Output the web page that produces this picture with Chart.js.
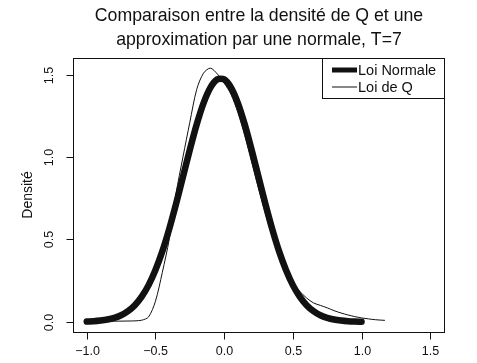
<!DOCTYPE html>
<html>
<head>
<meta charset="utf-8">
<script src="https://cdn.jsdelivr.net/npm/chart.js"></script>
<style>
  body { margin: 0; background: #fff; }
</style>
</head>
<body>
<canvas id="myChart" width="477" height="363"></canvas>
<script>
// densité de la loi normale
const xNormale = [-1.00, -0.95, -0.90, -0.85, -0.80, -0.75, -0.70, -0.65, -0.60, -0.55,
  -0.50, -0.45, -0.40, -0.35, -0.30, -0.25, -0.20, -0.15, -0.10, -0.05,
  0.00, 0.05, 0.10, 0.15, 0.20, 0.25, 0.30, 0.35, 0.40, 0.45,
  0.50, 0.55, 0.60, 0.65, 0.70, 0.75, 0.80, 0.85, 0.90, 0.95, 1.00];
const yNormale = [0.002, 0.004, 0.008, 0.014, 0.024, 0.040, 0.065, 0.101, 0.153, 0.223,
  0.315, 0.428, 0.563, 0.716, 0.880, 1.044, 1.198, 1.328, 1.422, 1.472,
  1.472, 1.422, 1.328, 1.198, 1.044, 0.880, 0.716, 0.563, 0.428, 0.315,
  0.223, 0.153, 0.101, 0.065, 0.040, 0.024, 0.014, 0.008, 0.004, 0.002, 0.001];

// densité de Q
const xQ = [-1.00, -0.90, -0.80, -0.70, -0.65, -0.60, -0.55, -0.50, -0.45, -0.40,
  -0.35, -0.30, -0.25, -0.20, -0.15, -0.10, -0.05, 0.00, 0.05, 0.10,
  0.15, 0.20, 0.25, 0.30, 0.35, 0.40, 0.45, 0.50, 0.55, 0.60,
  0.65, 0.70, 0.75, 0.80, 0.85, 0.90, 0.95, 1.00, 1.05, 1.10, 1.17];
const yQ = [0.003, 0.003, 0.004, 0.005, 0.006, 0.010, 0.030, 0.125, 0.300, 0.500,
  0.780, 1.000, 1.210, 1.410, 1.510, 1.540, 1.505, 1.450, 1.380, 1.270,
  1.130, 0.970, 0.810, 0.660, 0.520, 0.400, 0.300, 0.235, 0.185, 0.145,
  0.115, 0.100, 0.085, 0.068, 0.054, 0.042, 0.032, 0.024, 0.018, 0.013, 0.009];

const xTicks = [-1.0, -0.5, 0.0, 0.5, 1.0, 1.5];
const xTickLabels = ["\u22121.0", "\u22120.5", "0.0", "0.5", "1.0", "1.5"];
const yTicks = [0.0, 0.5, 1.0, 1.5];
const yTickLabels = ["0.0", "0.5", "1.0", "1.5"];

const titre = ["Comparaison entre la densité de Q et une", "approximation par une normale, T=7"];
const legendLabels = ["Loi Normale", "Loi de Q"];
const legendWidths = [5, 1];

const FONT = '"Liberation Sans", Arial, Helvetica, sans-serif';

// axes, cadre, titre et légende à la manière de R
const rStyle = {
  id: "rStyle",
  afterDraw(chart) {
    const ctx = chart.ctx;
    const xs = chart.scales.x;
    const ys = chart.scales.y;
    const a = chart.chartArea;
    ctx.save();
    ctx.strokeStyle = "#111";
    ctx.fillStyle = "#111";
    ctx.lineWidth = 1;

    // cadre
    ctx.strokeRect(Math.round(a.left) + 0.5, Math.round(a.top) + 0.5,
      Math.round(a.right - a.left), Math.round(a.bottom - a.top));

    // axe x
    const yb = Math.round(a.bottom) + 0.5;
    ctx.beginPath();
    ctx.moveTo(Math.round(xs.getPixelForValue(xTicks[0])) + 0.5, yb);
    ctx.lineTo(Math.round(xs.getPixelForValue(xTicks[xTicks.length - 1])) + 0.5, yb);
    ctx.stroke();
    ctx.font = "12.5px " + FONT;
    ctx.textAlign = "center";
    ctx.textBaseline = "middle";
    xTicks.forEach((v, i) => {
      const px = Math.round(xs.getPixelForValue(v)) + 0.5;
      ctx.beginPath();
      ctx.moveTo(px, yb);
      ctx.lineTo(px, yb + 7);
      ctx.stroke();
      ctx.fillText(xTickLabels[i], px, 352);
    });

    // axe y
    const xl = Math.round(a.left) + 0.5;
    ctx.beginPath();
    ctx.moveTo(xl, Math.round(ys.getPixelForValue(yTicks[0])) + 0.5);
    ctx.lineTo(xl, Math.round(ys.getPixelForValue(yTicks[yTicks.length - 1])) + 0.5);
    ctx.stroke();
    yTicks.forEach((v, i) => {
      const py = Math.round(ys.getPixelForValue(v)) + 0.5;
      ctx.beginPath();
      ctx.moveTo(xl, py);
      ctx.lineTo(xl - 7, py);
      ctx.stroke();
      ctx.save();
      ctx.translate(50, py);
      ctx.rotate(-Math.PI / 2);
      ctx.fillText(yTickLabels[i], 0, 0);
      ctx.restore();
    });

    // titre de l'axe y
    ctx.save();
    ctx.font = "14px " + FONT;
    ctx.translate(28, (a.top + a.bottom) / 2);
    ctx.rotate(-Math.PI / 2);
    ctx.fillText("Densité", 0, 0);
    ctx.restore();

    // titre
    ctx.font = "17.7px " + FONT;
    ctx.fillText(titre[0], 259, 16);
    ctx.fillText(titre[1], 259, 40);

    // légende
    const lx = 322, ly = Math.round(a.top);
    ctx.fillStyle = "#fff";
    ctx.fillRect(lx, ly, Math.round(a.right) - lx, 40);
    ctx.strokeRect(lx + 0.5, ly + 0.5, Math.round(a.right) - lx, 40);
    ctx.fillStyle = "#111";
    ctx.font = "14.5px " + FONT;
    ctx.textAlign = "left";
    legendLabels.forEach((lab, i) => {
      const y = ly + 12 + i * 17;
      ctx.beginPath();
      ctx.lineWidth = legendWidths[i];
      ctx.lineCap = "butt";
      ctx.moveTo(332, y);
      ctx.lineTo(357, y);
      ctx.stroke();
      ctx.fillText(lab, 358, y + 1);
    });
    ctx.restore();
  }
};

const ctx = document.getElementById("myChart").getContext("2d");
const myChart = new Chart(ctx, {
  type: "line",
  data: {
    datasets: [
      {
        label: legendLabels[0],
        data: xNormale.map((x, i) => ({ x: x, y: yNormale[i] })),
        borderColor: "#111",
        borderWidth: 6.5,
        borderCapStyle: "round",
        borderJoinStyle: "round",
        pointRadius: 0,
        tension: 0.3,
      },
      {
        label: legendLabels[1],
        data: xQ.map((x, i) => ({ x: x, y: yQ[i] })),
        borderColor: "#111",
        borderWidth: 1,
        pointRadius: 0,
        tension: 0.3,
      },
    ],
  },
  options: {
    responsive: false,
    devicePixelRatio: 1,
    animation: false,
    layout: { padding: { left: 73, right: 33, top: 58, bottom: 31 } },
    scales: {
      x: { type: "linear", min: -1.1, max: 1.6, display: false },
      y: { type: "linear", min: -0.0616, max: 1.6016, display: false },
    },
    plugins: {
      legend: { display: false },
      tooltip: { enabled: false },
    },
  },
  plugins: [rStyle],
});
</script>
</body>
</html>
